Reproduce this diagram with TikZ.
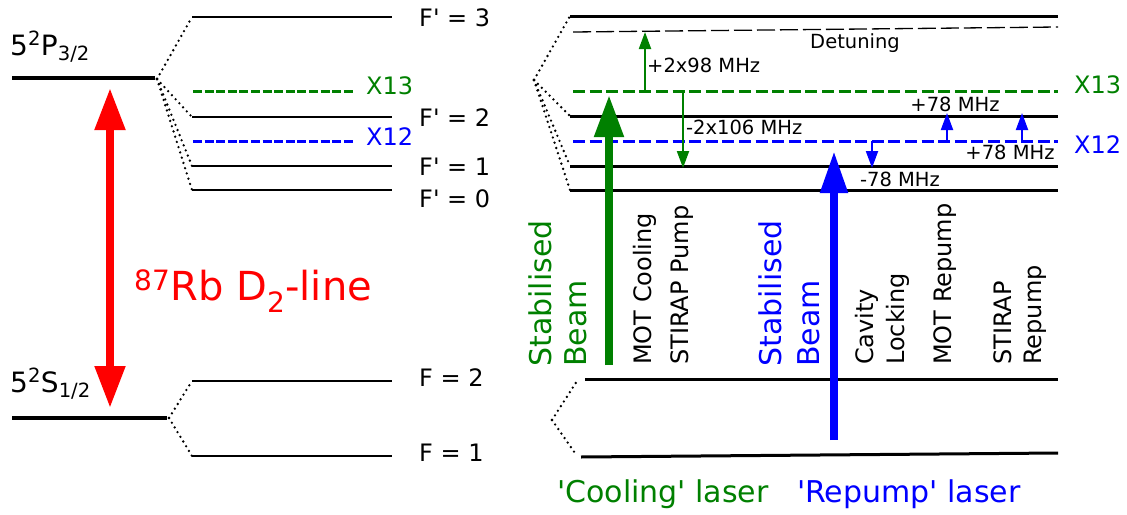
\documentclass[tikz,border=0pt]{standalone}
\usepackage{fontspec}
\setmainfont{DejaVu Sans}[Ligatures=TeXOff]
\usetikzlibrary{arrows.meta}
\definecolor{mygreen}{RGB}{0,128,0}
\definecolor{myblue}{RGB}{0,0,255}
\definecolor{myred}{RGB}{255,0,0}
\begin{document}
\begin{tikzpicture}[x=1pt,y=-1pt,
  lvlthick/.style={line width=4pt},
  lvl/.style={line width=2.5pt},
  lvlr/.style={line width=3pt},
  dotsline/.style={line width=2.6pt, line cap=round, dash pattern=on 0pt off 5.5pt},
  xdashl/.style={line width=3pt, dash pattern=on 9pt off 2.6pt},
  xdashr/.style={line width=3pt, dash pattern=on 12pt off 4.6pt},
  detline/.style={line width=1.3pt, dash pattern=on 18pt off 5pt},
  lbl/.style={font=\fontsize{24}{28}\selectfont, inner sep=0pt},
  smalllbl/.style={font=\fontsize{19.5}{22}\selectfont, inner sep=0pt},
  biglbl/.style={font=\fontsize{30}{36}\selectfont, inner sep=0pt},
  vlbl/.style={lbl, rotate=90, anchor=west},
  vbig/.style={biglbl, rotate=90, anchor=west},
  smallarrow/.style={line width=2pt, -{Triangle[width=12pt,length=17pt]}},
]
\useasboundingbox (0,0) rectangle (1127,514);

% ---------------- left diagram ----------------
\coordinate (Pa) at (12,78);  \coordinate (Pb) at (155,78);
\coordinate (Sa) at (12,418); \coordinate (Sb) at (167,418);
\draw[lvlthick] (Pa) -- (Pb);
\draw[lvlthick] (Sa) -- (Sb);
\node[font=\fontsize{28}{32}\selectfont, inner sep=0pt, anchor=base west] (lP) at (10,55) {5\textsuperscript{2}P\textsubscript{3/2}};
\node[font=\fontsize{28}{32}\selectfont, inner sep=0pt, anchor=base west] (lS) at (10,392) {5\textsuperscript{2}S\textsubscript{1/2}};

% red double arrow
\coordinate (Rt) at (110,88); \coordinate (Rb) at (110,408);
\draw[myred, line width=8pt, {Triangle[width=29pt,length=42pt]}-{Triangle[width=29pt,length=42pt]}] (Rt) -- (Rb);
\node[font=\fontsize{40}{44}\selectfont, text=myred, inner sep=0pt, anchor=base west] (lRb) at (134,300) {\textsuperscript{87}Rb D\textsubscript{2}-line};

% hyperfine excited levels (left)
\foreach \n/\y in {3/17, 2/117, 1/166, 0/190} {
  \coordinate (Le\n a) at (192,\y); \coordinate (Le\n b) at (392,\y);
  \draw[lvl] (Le\n a) -- (Le\n b);
  \draw[dotsline] (157,79) -- (Le\n a);
}
\coordinate (LX13a) at (193,91); \coordinate (LX13b) at (355,91);
\coordinate (LX12a) at (193,141); \coordinate (LX12b) at (355,141);
\draw[xdashl, mygreen] (LX13a) -- (LX13b);
\draw[xdashl, myblue] (LX12a) -- (LX12b);
\node[lbl, text=mygreen, anchor=west] (lX13l) at (366,86) {X13};
\node[lbl, text=myblue, anchor=west] (lX12l) at (366,137) {X12};

\node[lbl, anchor=west] (lF3) at (419,18) {F' = 3};
\node[lbl, anchor=west] (lF2) at (419,118) {F' = 2};
\node[lbl, anchor=west] (lF1) at (419,167) {F' = 1};
\node[lbl, anchor=west] (lF0) at (419,199) {F' = 0};

% ground hyperfine (left)
\coordinate (Lg2a) at (192,381); \coordinate (Lg2b) at (392,381);
\coordinate (Lg1a) at (192,456); \coordinate (Lg1b) at (392,456);
\draw[lvl] (Lg2a) -- (Lg2b);
\draw[lvl] (Lg1a) -- (Lg1b);
\draw[dotsline] (169,418) -- (Lg2a);
\draw[dotsline] (169,418) -- (Lg1a);
\node[lbl, anchor=west] (lG2) at (419,378) {F = 2};
\node[lbl, anchor=west] (lG1) at (419,453) {F = 1};

% ---------------- right diagram ----------------
\coordinate (apex) at (534,80);
\foreach \n/\y in {3/16, 2/116, 1/166, 0/190} {
  \coordinate (Re\n a) at (570,\y); \coordinate (Re\n b) at (1058,\y);
  \draw[lvlr] (Re\n a) -- (Re\n b);
  \draw[dotsline] (apex) -- (Re\n a);
}
\coordinate (Da) at (573,32); \coordinate (Db) at (1058,27);
\draw[detline] (Da) -- (Db);
\node[smalllbl] (lDet) at (855,43) {Detuning};

\coordinate (RX13a) at (573,91); \coordinate (RX13b) at (1058,91);
\coordinate (RX12a) at (573,141); \coordinate (RX12b) at (1058,141);
\draw[xdashr, mygreen] (RX13a) -- (RX13b);
\draw[xdashr, myblue] (RX12a) -- (RX12b);
\node[lbl, text=mygreen, anchor=west] (lX13r) at (1074,85) {X13};
\node[lbl, text=myblue, anchor=west] (lX12r) at (1074,145) {X12};

% ground (right)
\coordinate (Rg2a) at (585,379); \coordinate (Rg2b) at (1058,379);
\coordinate (Rg1a) at (581,457); \coordinate (Rg1b) at (1058,453);
\coordinate (gapex) at (552,420);
\draw[lvlr] (Rg2a) -- (Rg2b);
\draw[lvlr] (Rg1a) -- (Rg1b);
\draw[dotsline] (gapex) -- (577,381);
\draw[dotsline] (gapex) -- (575,453);

% big laser arrows
\coordinate (Ga) at (609,365); \coordinate (Gb) at (609,95);
\draw[mygreen, line width=8pt, -{Triangle[width=28pt,length=42pt]}] (Ga) -- (Gb);
\coordinate (Ba) at (834,440); \coordinate (Bb) at (834,151);
\draw[myblue, line width=8pt, -{Triangle[width=26pt,length=42pt]}] (Ba) -- (Bb);

% small detuning arrows
\coordinate (g1a) at (645,91); \coordinate (g1b) at (645,32);
\coordinate (g2a) at (683,91); \coordinate (g2b) at (683,168);
\draw[smallarrow, mygreen] (g1a) -- (g1b);
\draw[smallarrow, mygreen] (g2a) -- (g2b);
\node[smalllbl, anchor=west] (l298) at (647,65) {+2x98 MHz};
\node[smalllbl, anchor=west] (l2106) at (686,127) {-2x106 MHz};

\coordinate (b1a) at (872,141); \coordinate (b1b) at (872,168);
\coordinate (b2a) at (947,141); \coordinate (b2b) at (947,113);
\coordinate (b3a) at (1022,141); \coordinate (b3b) at (1022,113);
\draw[smallarrow, myblue] (b1a) -- (b1b);
\draw[smallarrow, myblue] (b2a) -- (b2b);
\draw[smallarrow, myblue] (b3a) -- (b3b);
\node[smalllbl] (l78a) at (955,104) {+78 MHz};
\node[smalllbl] (l78b) at (1010,152) {+78 MHz};
\node[smalllbl] (l78c) at (900,179) {-78 MHz};

% vertical labels
\node[vbig, text=mygreen] (vS1) at (540,367) {Stabilised};
\node[vbig, text=mygreen] (vB1) at (576,367) {Beam};
\node[vlbl] (vMC) at (645,365) {MOT Cooling};
\node[vlbl] (vSP) at (682,365) {STIRAP Pump};
\node[vbig, text=myblue] (vS2) at (770,367) {Stabilised};
\node[vbig, text=myblue] (vB2) at (809,367) {Beam};
\node[vlbl] (vCa) at (867,365) {Cavity};
\node[vlbl] (vLo) at (898,365) {Locking};
\node[vlbl] (vMR) at (945,365) {MOT Repump};
\node[vlbl] (vST) at (1003,365) {STIRAP};
\node[vlbl] (vRe) at (1035,365) {Repump};

% bottom labels
\node[biglbl, text=mygreen, anchor=west] (lCool) at (557,494) {'Cooling' laser};
\node[biglbl, text=myblue, anchor=west] (lRep) at (797,494) {'Repump' laser};
\end{tikzpicture}
\end{document}
